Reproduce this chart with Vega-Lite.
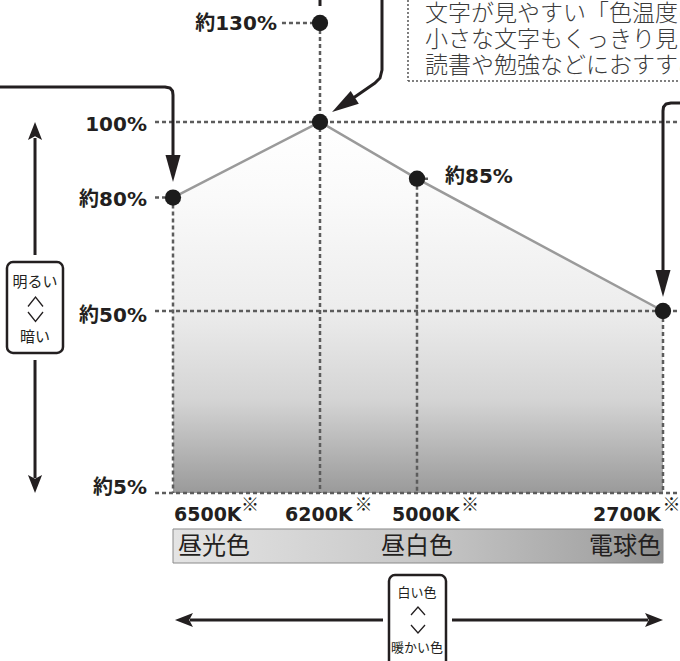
{
  "$schema": "https://vega.github.io/schema/vega-lite/v6.json",
  "width": 680,
  "height": 661,
  "padding": 0,
  "autosize": {"type": "none"},
  "background": "white",
  "config": {"view": {"stroke": null}, "axis": {"disable": true}, "legend": {"disable": true}},
  "datasets": {
    "curve": [
      {"kelvin": 6500, "brightness": 80},
      {"kelvin": 6200, "brightness": 100},
      {"kelvin": 5000, "brightness": 85},
      {"kelvin": 2700, "brightness": 50}
    ]
  },
  "encoding": {
    "x": {"field": "kelvin", "type": "quantitative", "scale": {"domain": [6500, 6200, 5000, 2700], "range": [173, 320, 417, 663], "zero": false, "nice": false}, "axis": null},
    "y": {"field": "brightness", "type": "quantitative", "scale": {"domain": [5, 50, 100, 130], "range": [493, 311, 122, 23], "zero": false, "nice": false}, "axis": null}
  },
  "layer": [
    {
      "data": {"values": [{"kelvin": 6500, "kelvin2": 2700, "brightness": -3.9, "brightness2": -12.31}]},
      "mark": {"type": "rect", "fill": {"gradient": "linear", "x1": 0, "y1": 0, "x2": 1, "y2": 0, "stops": [{"offset": 0, "color": "#e4e4e4"}, {"offset": 0.5, "color": "#c8c8c8"}, {"offset": 0.85, "color": "#a8a8a8"}, {"offset": 1, "color": "#8e8e8e"}]}, "stroke": "#8a8a8a", "strokeWidth": 1},
      "encoding": {"x2": {"field": "kelvin2"}, "y2": {"field": "brightness2"}}
    },
    {
      "data": {"name": "curve"},
      "mark": {"type": "area", "fill": {"gradient": "linear", "x1": 0, "y1": 0, "x2": 0, "y2": 1, "stops": [{"offset": 0, "color": "#ffffff"}, {"offset": 0.2, "color": "#fafafa"}, {"offset": 0.5, "color": "#ededed"}, {"offset": 0.75, "color": "#d4d4d4"}, {"offset": 1, "color": "#9a9a9a"}]}},
      "encoding": {"y2": {"datum": 5}}
    },
    {
      "data": {"name": "curve"},
      "mark": {"type": "line", "color": "#9a9a9a", "strokeWidth": 2.5}
    },
    {
      "data": {"values": [
        {"kelvin": 6536.7, "kelvin2": 2541.1, "brightness": 100, "brightness2": 100},
        {"kelvin": 6536.7, "kelvin2": 2541.1, "brightness": 50, "brightness2": 50},
        {"kelvin": 6536.7, "kelvin2": 2541.1, "brightness": 5, "brightness2": 5},
        {"kelvin": 6536.7, "kelvin2": 6516.3, "brightness": 80, "brightness2": 80},
        {"kelvin": 6277.6, "kelvin2": 6200, "brightness": 130, "brightness2": 130},
        {"kelvin": 5000, "kelvin2": 4897.2, "brightness": 85, "brightness2": 85},
        {"kelvin": 6500, "kelvin2": 6500, "brightness": 80, "brightness2": 5},
        {"kelvin": 6200, "kelvin2": 6200, "brightness": 130, "brightness2": 5},
        {"kelvin": 5000, "kelvin2": 5000, "brightness": 85, "brightness2": 5},
        {"kelvin": 2700, "kelvin2": 2700, "brightness": 50, "brightness2": 5}
      ]},
      "mark": {"type": "rule", "color": "#5c5c5c", "strokeWidth": 2.5, "strokeDash": [4, 3]},
      "encoding": {"x2": {"field": "kelvin2"}, "y2": {"field": "brightness2"}}
    },
    {
      "data": {"values": [
        {"kelvin": 5111.4, "kelvin2": 5111.4, "brightness": 136.97, "brightness2": 112.42},
        {"kelvin": 5111.4, "kelvin2": 2541.1, "brightness": 112.42, "brightness2": 112.42}
      ]},
      "mark": {"type": "rule", "color": "#555555", "strokeWidth": 1.5, "strokeDash": [2, 2]},
      "encoding": {"x2": {"field": "kelvin2"}, "y2": {"field": "brightness2"}}
    },
    {
      "data": {"values": [
        {"kelvin": 6500, "brightness": 80},
        {"kelvin": 6200, "brightness": 100},
        {"kelvin": 5000, "brightness": 85},
        {"kelvin": 2700, "brightness": 50},
        {"kelvin": 6200, "brightness": 130}
      ]},
      "mark": {"type": "point", "filled": true, "size": 265, "color": "#1c1c1c", "opacity": 1}
    },
    {
      "data": {"values": [
        {"id": "a", "seq": 1, "kelvin": 6853.1, "brightness": 110.61},
        {"id": "a", "seq": 2, "kelvin": 6516.3, "brightness": 110.61},
        {"id": "a", "seq": 3, "kelvin": 6506.1, "brightness": 110.30},
        {"id": "a", "seq": 4, "kelvin": 6501.0, "brightness": 109.39},
        {"id": "a", "seq": 5, "kelvin": 6500, "brightness": 108.18},
        {"id": "a", "seq": 6, "kelvin": 6500, "brightness": 90.74},
        {"id": "b", "seq": 1, "kelvin": 5433.0, "brightness": 136.97},
        {"id": "b", "seq": 2, "kelvin": 5433.0, "brightness": 115.76},
        {"id": "b", "seq": 3, "kelvin": 5457.7, "brightness": 113.33},
        {"id": "b", "seq": 4, "kelvin": 5519.6, "brightness": 111.82},
        {"id": "b", "seq": 5, "kelvin": 5779.4, "brightness": 107.42},
        {"id": "c", "seq": 1, "kelvin": 2541.1, "brightness": 105.76},
        {"id": "c", "seq": 2, "kelvin": 2625.2, "brightness": 105.76},
        {"id": "c", "seq": 3, "kelvin": 2671.9, "brightness": 105.45},
        {"id": "c", "seq": 4, "kelvin": 2695.3, "brightness": 104.55},
        {"id": "c", "seq": 5, "kelvin": 2700, "brightness": 103.33},
        {"id": "c", "seq": 6, "kelvin": 2700, "brightness": 60.85},
        {"id": "d", "seq": 1, "kelvin": 6200, "brightness": 136.97},
        {"id": "d", "seq": 2, "kelvin": 6200, "brightness": 135.15},
        {"id": "e", "seq": 1, "kelvin": 6781.6, "brightness": 95.77},
        {"id": "e", "seq": 2, "kelvin": 6781.6, "brightness": 64.81},
        {"id": "f", "seq": 1, "kelvin": 6781.6, "brightness": 37.88},
        {"id": "f", "seq": 2, "kelvin": 6781.6, "brightness": 8.71},
        {"id": "g", "seq": 1, "kelvin": 6465.3, "brightness": -26.41},
        {"id": "g", "seq": 2, "kelvin": 5420.6, "brightness": -26.41},
        {"id": "h", "seq": 1, "kelvin": 4672.8, "brightness": -26.41},
        {"id": "h", "seq": 2, "kelvin": 2840.2, "brightness": -26.41}
      ]},
      "mark": {"type": "line", "color": "#231f20", "strokeWidth": 3, "strokeJoin": "round"},
      "encoding": {"detail": {"field": "id"}, "order": {"field": "seq"}}
    },
    {
      "data": {"values": [
        {"direction": "callout-down", "kelvin": 6500, "brightness": 87.70},
        {"direction": "callout-down", "kelvin": 2700, "brightness": 57.28},
        {"direction": "callout-diag", "kelvin": 5910.5, "brightness": 105.24},
        {"direction": "up", "kelvin": 6781.6, "brightness": 97.62},
        {"direction": "down", "kelvin": 6781.6, "brightness": 7.23},
        {"direction": "left", "kelvin": 6477.6, "brightness": -26.41},
        {"direction": "right", "kelvin": 2784.1, "brightness": -26.41}
      ]},
      "mark": {"type": "point", "filled": true, "size": 900, "color": "#231f20", "opacity": 1},
      "encoding": {
        "shape": {"field": "direction", "type": "nominal", "legend": null, "scale": {
          "domain": ["callout-down", "callout-diag", "up", "down", "left", "right"],
          "range": [
            "M0,0.9L-0.5,-0.9L0.5,-0.9Z",
            "M-0.755,0.49L0.483,-0.91L1.028,-0.071Z",
            "M0,-0.6L-0.47,0.6L0,0.35L0.47,0.6Z",
            "M0,0.6L-0.47,-0.6L0,-0.35L0.47,-0.6Z",
            "M-0.6,0L0.6,-0.47L0.35,0L0.6,0.47Z",
            "M0.6,0L-0.6,-0.47L-0.35,0L-0.6,0.47Z"
          ]}}
      }
    },
    {
      "data": {"values": [
        {"kelvin": 6838.8, "kelvin2": 6724.5, "brightness": 62.96, "brightness2": 39.62},
        {"kelvin": 5346.4, "kelvin2": 4728.9, "brightness": -15.28, "brightness2": -38.77}
      ]},
      "mark": {"type": "rect", "fill": "white", "stroke": "#231f20", "strokeWidth": 2.5, "cornerRadius": 6},
      "encoding": {"x2": {"field": "kelvin2"}, "y2": {"field": "brightness2"}}
    },
    {
      "data": {"values": [
        {"id": "up-left", "seq": 1, "kelvin": 6795.9, "brightness": 51.19},
        {"id": "up-left", "seq": 2, "kelvin": 6780.6, "brightness": 53.70},
        {"id": "up-left", "seq": 3, "kelvin": 6765.3, "brightness": 51.19},
        {"id": "down-left", "seq": 1, "kelvin": 6795.9, "brightness": 49.75},
        {"id": "down-left", "seq": 2, "kelvin": 6780.6, "brightness": 47.40},
        {"id": "down-left", "seq": 3, "kelvin": 6765.3, "brightness": 49.75},
        {"id": "up-bottom", "seq": 1, "kelvin": 5074.2, "brightness": -25.16},
        {"id": "up-bottom", "seq": 2, "kelvin": 4990.7, "brightness": -23.18},
        {"id": "up-bottom", "seq": 3, "kelvin": 4925.2, "brightness": -25.16},
        {"id": "down-bottom", "seq": 1, "kelvin": 5074.2, "brightness": -27.63},
        {"id": "down-bottom", "seq": 2, "kelvin": 4990.7, "brightness": -29.61},
        {"id": "down-bottom", "seq": 3, "kelvin": 4925.2, "brightness": -27.63}
      ]},
      "mark": {"type": "line", "color": "#231f20", "strokeWidth": 1.3},
      "encoding": {"detail": {"field": "id"}, "order": {"field": "seq"}}
    },
    {
      "data": {"values": [
        {"kelvin": 6553.1, "brightness": 99.21, "label": "100%"},
        {"kelvin": 6553.1, "brightness": 79.37, "label": "約80%"},
        {"kelvin": 6553.1, "brightness": 48.76, "label": "約50%"},
        {"kelvin": 6553.1, "brightness": 6.24, "label": "約5%"},
        {"kelvin": 6287.8, "brightness": 129.70, "label": "約130%"}
      ]},
      "mark": {"type": "text", "align": "right", "baseline": "middle", "font": "DejaVu Sans, Noto Sans CJK JP", "fontWeight": "bold", "fontSize": 20, "color": "#231f20"},
      "encoding": {"text": {"field": "label"}}
    },
    {
      "data": {"values": [{"kelvin": 4738.2, "brightness": 85.45, "label": "約85%"}]},
      "mark": {"type": "text", "align": "left", "baseline": "middle", "font": "DejaVu Sans, Noto Sans CJK JP", "fontWeight": "bold", "fontSize": 20, "color": "#231f20"},
      "encoding": {"text": {"field": "label"}}
    },
    {
      "data": {"values": [
        {"kelvin": 6498.0, "brightness": -0.56, "label": "6500K"},
        {"kelvin": 6271.4, "brightness": -0.56, "label": "6200K"},
        {"kelvin": 5309.3, "brightness": -0.56, "label": "5000K"},
        {"kelvin": 3354.5, "brightness": -0.56, "label": "2700K"}
      ]},
      "mark": {"type": "text", "align": "left", "baseline": "middle", "font": "DejaVu Sans", "fontWeight": "bold", "fontSize": 19, "color": "#231f20"},
      "encoding": {"text": {"field": "label"}}
    },
    {
      "data": {"values": [
        {"kelvin": 6342.9, "brightness": 1.79, "label": "※"},
        {"kelvin": 5661.9, "brightness": 1.79, "label": "※"},
        {"kelvin": 4504.5, "brightness": 1.79, "label": "※"},
        {"kelvin": 2620.5, "brightness": 1.79, "label": "※"}
      ]},
      "mark": {"type": "text", "align": "center", "baseline": "middle", "font": "Noto Sans CJK JP", "fontSize": 18, "color": "#231f20"},
      "encoding": {"text": {"field": "label"}}
    },
    {
      "data": {"values": [
        {"kelvin": 6416.3, "brightness": -8.35, "label": "昼光色"},
        {"kelvin": 5000, "brightness": -8.35, "label": "昼白色"},
        {"kelvin": 3055.3, "brightness": -8.35, "label": "電球色"}
      ]},
      "mark": {"type": "text", "align": "center", "baseline": "middle", "font": "Noto Sans CJK JP", "fontSize": 24, "color": "#231f20"},
      "encoding": {"text": {"field": "label"}}
    },
    {
      "data": {"values": [
        {"kelvin": 6781.6, "brightness": 57.67, "label": "明るい"},
        {"kelvin": 6781.6, "brightness": 43.57, "label": "暗い"}
      ]},
      "mark": {"type": "text", "align": "center", "baseline": "middle", "font": "Noto Sans CJK JP", "fontSize": 15, "color": "#231f20"},
      "encoding": {"text": {"field": "label"}}
    },
    {
      "data": {"values": [
        {"kelvin": 5000, "brightness": -19.73, "label": "白い色"},
        {"kelvin": 5000, "brightness": -33.33, "label": "暖かい色"}
      ]},
      "mark": {"type": "text", "align": "center", "baseline": "middle", "font": "Noto Sans CJK JP", "fontSize": 13, "color": "#231f20"},
      "encoding": {"text": {"field": "label"}}
    },
    {
      "data": {"values": [
        {"kelvin": 4925.2, "brightness": 132.73, "label": "文字が見やすい「色温度の"},
        {"kelvin": 4925.2, "brightness": 124.85, "label": "小さな文字もくっきり見える"},
        {"kelvin": 4925.2, "brightness": 116.97, "label": "読書や勉強などにおすすめ"}
      ]},
      "mark": {"type": "text", "align": "left", "baseline": "middle", "font": "Noto Sans CJK JP", "fontWeight": 300, "fontSize": 23, "color": "#3a3a3a"},
      "encoding": {"text": {"field": "label"}}
    }
  ]
}
